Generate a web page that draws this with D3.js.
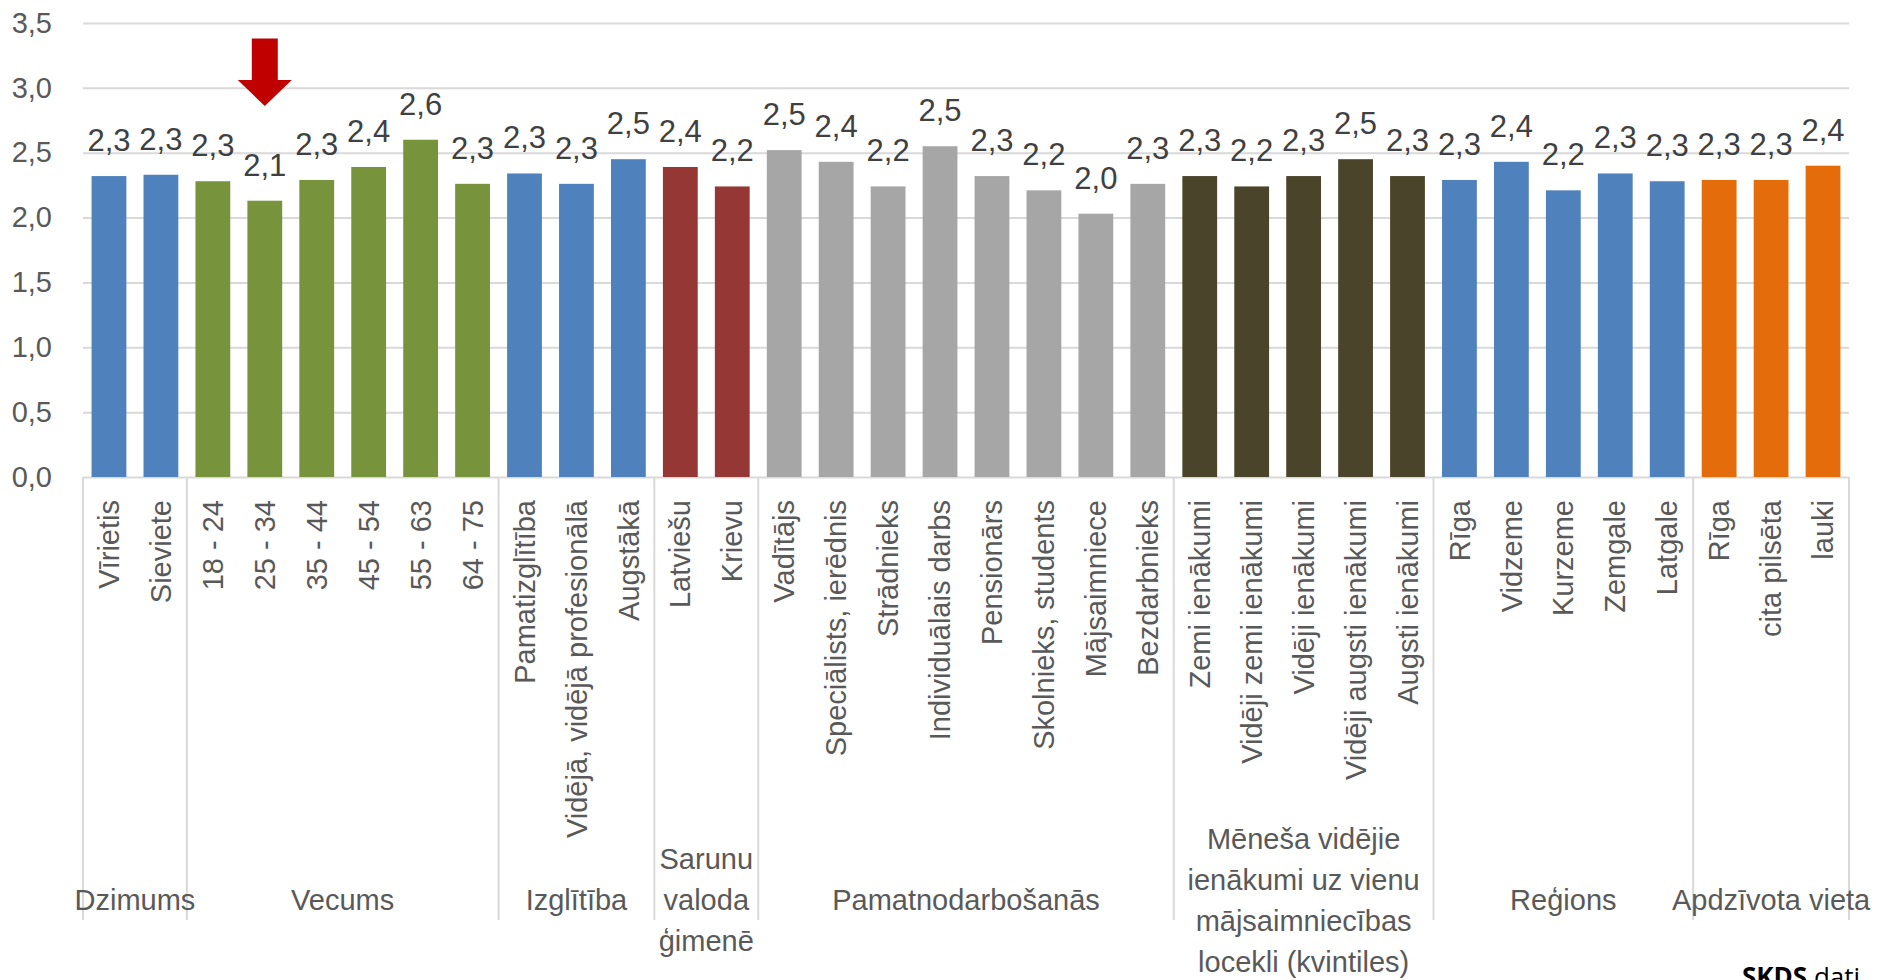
<!DOCTYPE html>
<html>
<head>
<meta charset="utf-8">
<script src="https://cdn.jsdelivr.net/npm/d3@7"></script>
<style>
body { margin: 0; background: #fff; }
text { font-family: "Liberation Sans", Arial, sans-serif; }
</style>
</head>
<body>
<script>
// kategorijas
var categories = ['Vīrietis', 'Sieviete',
    '18 - 24', '25 - 34', '35 - 44', '45 - 54', '55 - 63', '64 - 75',
    'Pamatizglītība', 'Vidējā, vidējā profesionālā', 'Augstākā',
    'Latviešu', 'Krievu',
    'Vadītājs', 'Speciālists, ierēdnis', 'Strādnieks', 'Individuālais darbs', 'Pensionārs', 'Skolnieks, students', 'Mājsaimniece', 'Bezdarbnieks',
    'Zemi ienākumi', 'Vidēji zemi ienākumi', 'Vidēji ienākumi', 'Vidēji augsti ienākumi', 'Augsti ienākumi',
    'Rīga', 'Vidzeme', 'Kurzeme', 'Zemgale', 'Latgale',
    'Rīga', 'cita pilsēta', 'lauki'];

// vidējās vērtības
var values = [2.32, 2.33,
    2.28, 2.13, 2.29, 2.39, 2.60, 2.26,
    2.34, 2.26, 2.45,
    2.39, 2.24,
    2.52, 2.43, 2.24, 2.55, 2.32, 2.21, 2.03, 2.26,
    2.32, 2.24, 2.32, 2.45, 2.32,
    2.29, 2.43, 2.21, 2.34, 2.28,
    2.29, 2.29, 2.40];

// grupas
var groupLabels = [['Dzimums'], ['Vecums'], ['Izglītība'], ['Sarunu', 'valoda', 'ģimenē'], ['Pamatnodarbošanās'],
    ['Mēneša vidējie', 'ienākumi uz vienu', 'mājsaimniecības', 'locekli (kvintiles)'], ['Reģions'], ['Apdzīvota vieta']];
var groupSizes = [2, 6, 3, 2, 8, 5, 5, 3];
var groupColors = ['#4f81bd', '#77933c', '#4f81bd', '#953735', '#a6a6a6', '#4a452a', '#4f81bd', '#e46c0a'];

var yTicks = [0, 0.5, 1, 1.5, 2, 2.5, 3, 3.5];
var markedCategory = 3; // 25 - 34

var plotLeft = 83, plotRight = 1849, plotTop = 23, plotBottom = 477;

// kurai grupai pieder katrs stabiņš
var groupOf = [];
var starts = [0];
groupSizes.forEach(function(n, g){
    for(var k = 0; k < n; k++) groupOf.push(g);
    starts.push(starts[starts.length - 1] + n);
});

var svg = d3.select('body').append('svg')
    .attr('width', 1885)
    .attr('height', 980);

var x = d3.scaleBand()
    .domain(d3.range(categories.length))
    .range([plotLeft, plotRight])
    .paddingInner(0.33)
    .paddingOuter(0.165);

var y = d3.scaleLinear()
    .domain([0, 3.5])
    .range([plotBottom, plotTop]);

//Y ass ar režģi
var yAxis = d3.axisLeft(y)
    .tickValues(yTicks)
    .tickSizeInner(-(plotRight - plotLeft))
    .tickSizeOuter(0)
    .tickPadding(31)
    .tickFormat(function(d){ return d.toFixed(1).replace('.', ','); });

var gy = svg.append('g')
    .attr('transform', 'translate(' + plotLeft + ',0)')
    .call(yAxis);
gy.select('.domain').remove();
gy.selectAll('line').attr('stroke', '#d9d9d9').attr('stroke-width', 2);
gy.selectAll('text').attr('fill', '#595959').style('font-size', '29px');

//stabiņi
svg.selectAll('rect.bar')
    .data(values)
    .enter()
    .append('rect')
    .attr('class', 'bar')
    .attr('x', function(d, i){ return x(i); })
    .attr('y', function(d){ return y(d); })
    .attr('width', x.bandwidth())
    .attr('height', function(d){ return y(0) - y(d); })
    .attr('fill', function(d, i){ return groupColors[groupOf[i]]; });

//vērtību etiķetes
svg.selectAll('text.val')
    .data(values)
    .enter()
    .append('text')
    .attr('class', 'val')
    .attr('x', function(d, i){ return x(i) + x.bandwidth() / 2; })
    .attr('y', function(d){ return y(d) - 25; })
    .attr('text-anchor', 'middle')
    .attr('fill', '#404040')
    .style('font-size', '31px')
    .text(function(d){ return d.toFixed(1).replace('.', ','); });

//X ass - kategorijas
var xAxis = d3.axisBottom(x)
    .tickSize(0)
    .tickFormat(function(i){ return categories[i]; });

var gx = svg.append('g')
    .attr('transform', 'translate(0,' + plotBottom + ')')
    .call(xAxis);
gx.select('.domain').remove();
gx.selectAll('text')
    .attr('transform', 'rotate(-90)')
    .attr('x', -23)
    .attr('y', 0)
    .attr('dy', '0.35em')
    .attr('text-anchor', 'end')
    .attr('fill', '#595959')
    .style('font-size', '29px');

//grupu atdalītāji
var gap = (x.step() - x.bandwidth()) / 2;
var boundaries = starts.map(function(s){
    return s < categories.length ? x(s) - gap : x(categories.length - 1) + x.bandwidth() + gap;
});
svg.selectAll('line.sep')
    .data(boundaries)
    .enter()
    .append('line')
    .attr('class', 'sep')
    .attr('x1', function(d){ return d; })
    .attr('x2', function(d){ return d; })
    .attr('y1', plotBottom)
    .attr('y2', 920)
    .attr('stroke', '#d9d9d9')
    .attr('stroke-width', 2);

//grupu nosaukumi
var gl = svg.selectAll('text.grp')
    .data(groupLabels)
    .enter()
    .append('text')
    .attr('class', 'grp')
    .attr('text-anchor', 'middle')
    .attr('fill', '#595959')
    .style('font-size', '29px');
gl.each(function(lines, g){
    var cx = (boundaries[g] + boundaries[g + 1]) / 2;
    d3.select(this).selectAll('tspan')
        .data(lines)
        .enter()
        .append('tspan')
        .attr('x', cx)
        .attr('y', function(d, k){ return 910 + (k - (lines.length - 1) / 2) * 41; })
        .text(function(d){ return d; });
});

//sarkanā bulta
var ax = x(markedCategory) + x.bandwidth() / 2;
var aTop = y(3.38), aNeck = y(3.06), aTip = y(2.86);
svg.append('path')
    .attr('d', 'M' + (ax - 13) + ',' + aTop + 'H' + (ax + 13) + 'V' + aNeck + 'H' + (ax + 27) +
        'L' + ax + ',' + aTip + 'L' + (ax - 27) + ',' + aNeck + 'H' + (ax - 13) + 'Z')
    .attr('fill', '#c00000');

//avots
var src = svg.append('text')
    .attr('x', 1742)
    .attr('y', 986)
    .attr('fill', '#000')
    .style('font-family', '"Open Sans", "Noto Sans", sans-serif')
    .style('font-size', '26px');
src.append('tspan').style('font-weight', 'bold').text('SKDS');
src.append('tspan').text(' dati');
</script>
</body>
</html>
